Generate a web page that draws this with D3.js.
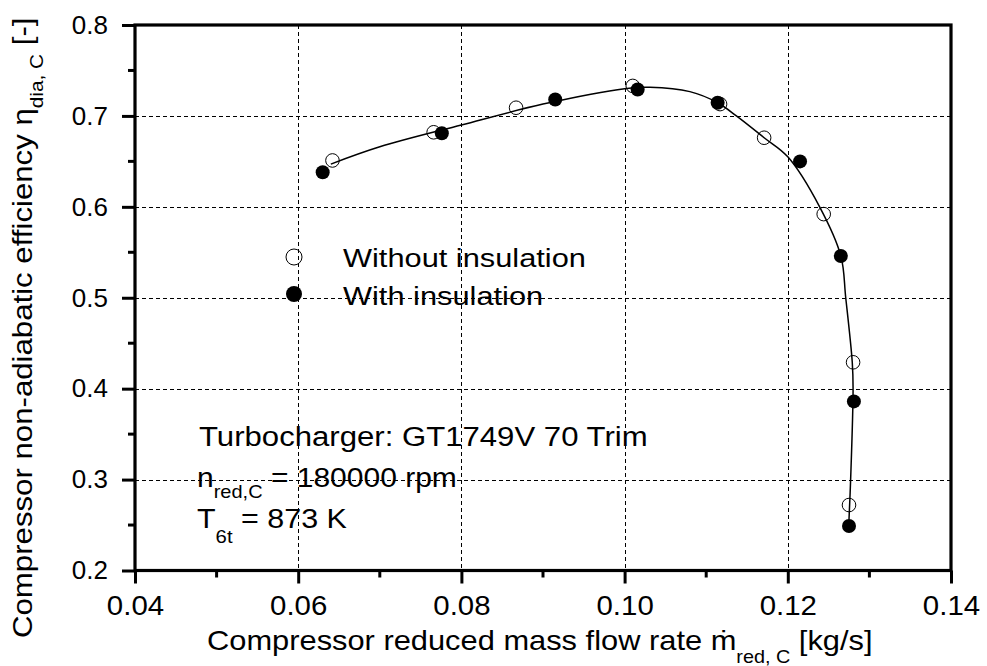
<!DOCTYPE html>
<html>
<head>
<meta charset="utf-8">
<script src="https://cdn.jsdelivr.net/npm/d3@7"></script>
<style>
  body { margin: 0; background: #fff; }
  svg { display: block; }
  text { font-family: "Liberation Sans", Arial, sans-serif; fill: #000; }
</style>
</head>
<body>
<svg id="chart" width="987" height="666"></svg>
<script>
// ---- data ----
const xTicks = [0.04, 0.06, 0.08, 0.10, 0.12, 0.14];
const xMinorTicks = [0.05, 0.07, 0.09, 0.11, 0.13];
const yTicks = [0.2, 0.3, 0.4, 0.5, 0.6, 0.7, 0.8];
const yMinorTicks = [0.25, 0.35, 0.45, 0.55, 0.65, 0.75];

const withoutX = [0.0642, 0.0766, 0.0867, 0.1010, 0.1117, 0.1171, 0.1244, 0.1280, 0.1275];
const withoutY = [0.651, 0.682, 0.709, 0.733, 0.713, 0.676, 0.592, 0.429, 0.272];
const withX = [0.0630, 0.0776, 0.0915, 0.1016, 0.1114, 0.1215, 0.1265, 0.1281, 0.1275];
const withY = [0.638, 0.681, 0.718, 0.729, 0.7145, 0.650, 0.546, 0.386, 0.249];

const fitX = [0.0640, 0.0700, 0.0800, 0.0900, 0.1000, 0.1031, 0.1080, 0.1114, 0.1137, 0.1171, 0.1200, 0.1239, 0.1265, 0.1271, 0.1279, 0.1280, 0.1277, 0.1275];
const fitY = [0.647, 0.666, 0.690, 0.713, 0.7300, 0.7315, 0.7267, 0.7145, 0.700, 0.676, 0.655, 0.600, 0.546, 0.500, 0.429, 0.400, 0.300, 0.256];

const legendLabels = ["Without insulation", "With insulation"];

// ---- layout ----
const svg = d3.select("#chart");
const L = 135, R = 951, T = 25, B = 570.5;
const x = d3.scaleLinear().domain([0.04, 0.14]).range([L, R]);
const y = d3.scaleLinear().domain([0.2, 0.8]).range([B, T]);

// stretch a text horizontally (in its own frame) so it spans [x0, x1]
function fitText(sel, x0, x1) {
  const w = sel.node().getBBox().width;
  const sx = (x1 - x0) / w;
  sel.attr("transform", `translate(${x0},0) scale(${sx},1) translate(${-x0},0)`);
  return sx;
}

// grid
const grid = svg.append("g").attr("stroke", "#000").attr("stroke-width", 1).attr("stroke-dasharray", "4,3");
grid.selectAll("line.v").data(xTicks.filter(d => d > 0.041 && d < 0.139)).enter().append("line")
  .attr("x1", d => Math.round(x(d)) + 0.5).attr("x2", d => Math.round(x(d)) + 0.5)
  .attr("y1", T).attr("y2", B);
grid.selectAll("line.h").data(yTicks.filter(d => d > 0.21 && d < 0.79)).enter().append("line")
  .attr("y1", d => Math.round(y(d)) + 0.5).attr("y2", d => Math.round(y(d)) + 0.5)
  .attr("x1", L).attr("x2", R);

// fit curve
const pts = fitX.map((v, i) => [v, fitY[i]]);
const line = d3.line().x(d => x(d[0])).y(d => y(d[1])).curve(d3.curveCatmullRom.alpha(0.5));
svg.append("path").attr("d", line(pts)).attr("fill", "none").attr("stroke", "#000").attr("stroke-width", 1.5);

// points
svg.append("g").selectAll("circle").data(withoutX.map((v, i) => [v, withoutY[i]])).enter()
  .append("circle").attr("cx", d => x(d[0])).attr("cy", d => y(d[1])).attr("r", 6.8)
  .attr("fill", "none").attr("stroke", "#000").attr("stroke-width", 1);
svg.append("g").selectAll("circle").data(withX.map((v, i) => [v, withY[i]])).enter()
  .append("circle").attr("cx", d => x(d[0])).attr("cy", d => y(d[1])).attr("r", 7)
  .attr("fill", "#000");

// axes
const xAxis = d3.axisBottom(x).tickValues(xTicks).tickFormat(d3.format(".2f")).tickSize(13).tickPadding(12);
const gx = svg.append("g").attr("transform", `translate(0,${B})`).call(xAxis);
const yAxis = d3.axisLeft(y).tickValues(yTicks).tickFormat(d3.format(".1f")).tickSize(13).tickPadding(14);
const gy = svg.append("g").attr("transform", `translate(${L},0)`).call(yAxis);
[gx, gy].forEach(g => {
  g.select(".domain").remove();
  g.selectAll(".tick line").attr("stroke", "#000").attr("stroke-width", 3);
  g.selectAll(".tick text").attr("font-family", "Liberation Sans, Arial, sans-serif").attr("fill", "#000");
});
gx.selectAll(".tick text").attr("font-size", 27).attr("transform", "scale(1.09,1)");
gy.selectAll(".tick text").attr("font-size", 26);
svg.append("g").selectAll("line").data(xMinorTicks).enter().append("line")
  .attr("x1", d => x(d)).attr("x2", d => x(d)).attr("y1", B).attr("y2", B + 7)
  .attr("stroke", "#000").attr("stroke-width", 3);
svg.append("g").selectAll("line").data(yMinorTicks).enter().append("line")
  .attr("y1", d => y(d)).attr("y2", d => y(d)).attr("x1", L).attr("x2", L - 7)
  .attr("stroke", "#000").attr("stroke-width", 3);

// frame
svg.append("rect").attr("x", L).attr("y", T).attr("width", R - L).attr("height", B - T)
  .attr("fill", "none").attr("stroke", "#000").attr("stroke-width", 3.2);

// axis titles
const xt = svg.append("text").attr("x", 207).attr("y", 650).attr("font-size", 28);
xt.append("tspan").text("Compressor reduced mass flow rate ṁ");
xt.append("tspan").attr("font-size", 18).attr("dy", 13).text("red, C");
xt.append("tspan").attr("dy", -13).text(" [kg/s]");
fitText(xt, 207, 873);

const ytg = svg.append("g").attr("transform", "translate(32,638) rotate(-90)");
const yt = ytg.append("text").attr("x", 0).attr("y", 0).attr("font-size", 27);
yt.append("tspan").text("Compressor non-adiabatic efficiency η");
yt.append("tspan").attr("font-size", 18).attr("dy", 11).text("dia, C");
yt.append("tspan").attr("dy", -11).text(" [-]");
fitText(yt, 0, 621);

// legend
const lg = svg.append("g");
lg.append("circle").attr("cx", 294).attr("cy", 257).attr("r", 8).attr("fill", "none").attr("stroke", "#000").attr("stroke-width", 1);
lg.append("circle").attr("cx", 294).attr("cy", 294).attr("r", 8).attr("fill", "#000");
const l1 = lg.append("text").attr("x", 343).attr("y", 267).attr("font-size", 26).text(legendLabels[0]);
const lsx = fitText(l1, 343, 586);
lg.append("text").attr("x", 343).attr("y", 305).attr("font-size", 26).text(legendLabels[1])
  .attr("transform", `translate(343,0) scale(${lsx},1) translate(-343,0)`);

// annotation
const a2 = svg.append("text").attr("x", 197).attr("y", 487).attr("font-size", 27);
a2.append("tspan").text("n");
a2.append("tspan").attr("font-size", 18).attr("dy", 11).text("red,C");
a2.append("tspan").attr("dy", -11).text(" = 180000 rpm");
const asx = fitText(a2, 197, 457);
const a1 = svg.append("text").attr("x", 199).attr("y", 446).attr("font-size", 27).text("Turbocharger: GT1749V 70 Trim");
fitText(a1, 199, 648);
const a3 = svg.append("text").attr("x", 197).attr("y", 528).attr("font-size", 27);
a3.append("tspan").text("T");
a3.append("tspan").attr("font-size", 18).attr("dy", 15).text("6t");
a3.append("tspan").attr("dy", -15).text(" = 873 K");
fitText(a3, 197, 347);
</script>
</body>
</html>
